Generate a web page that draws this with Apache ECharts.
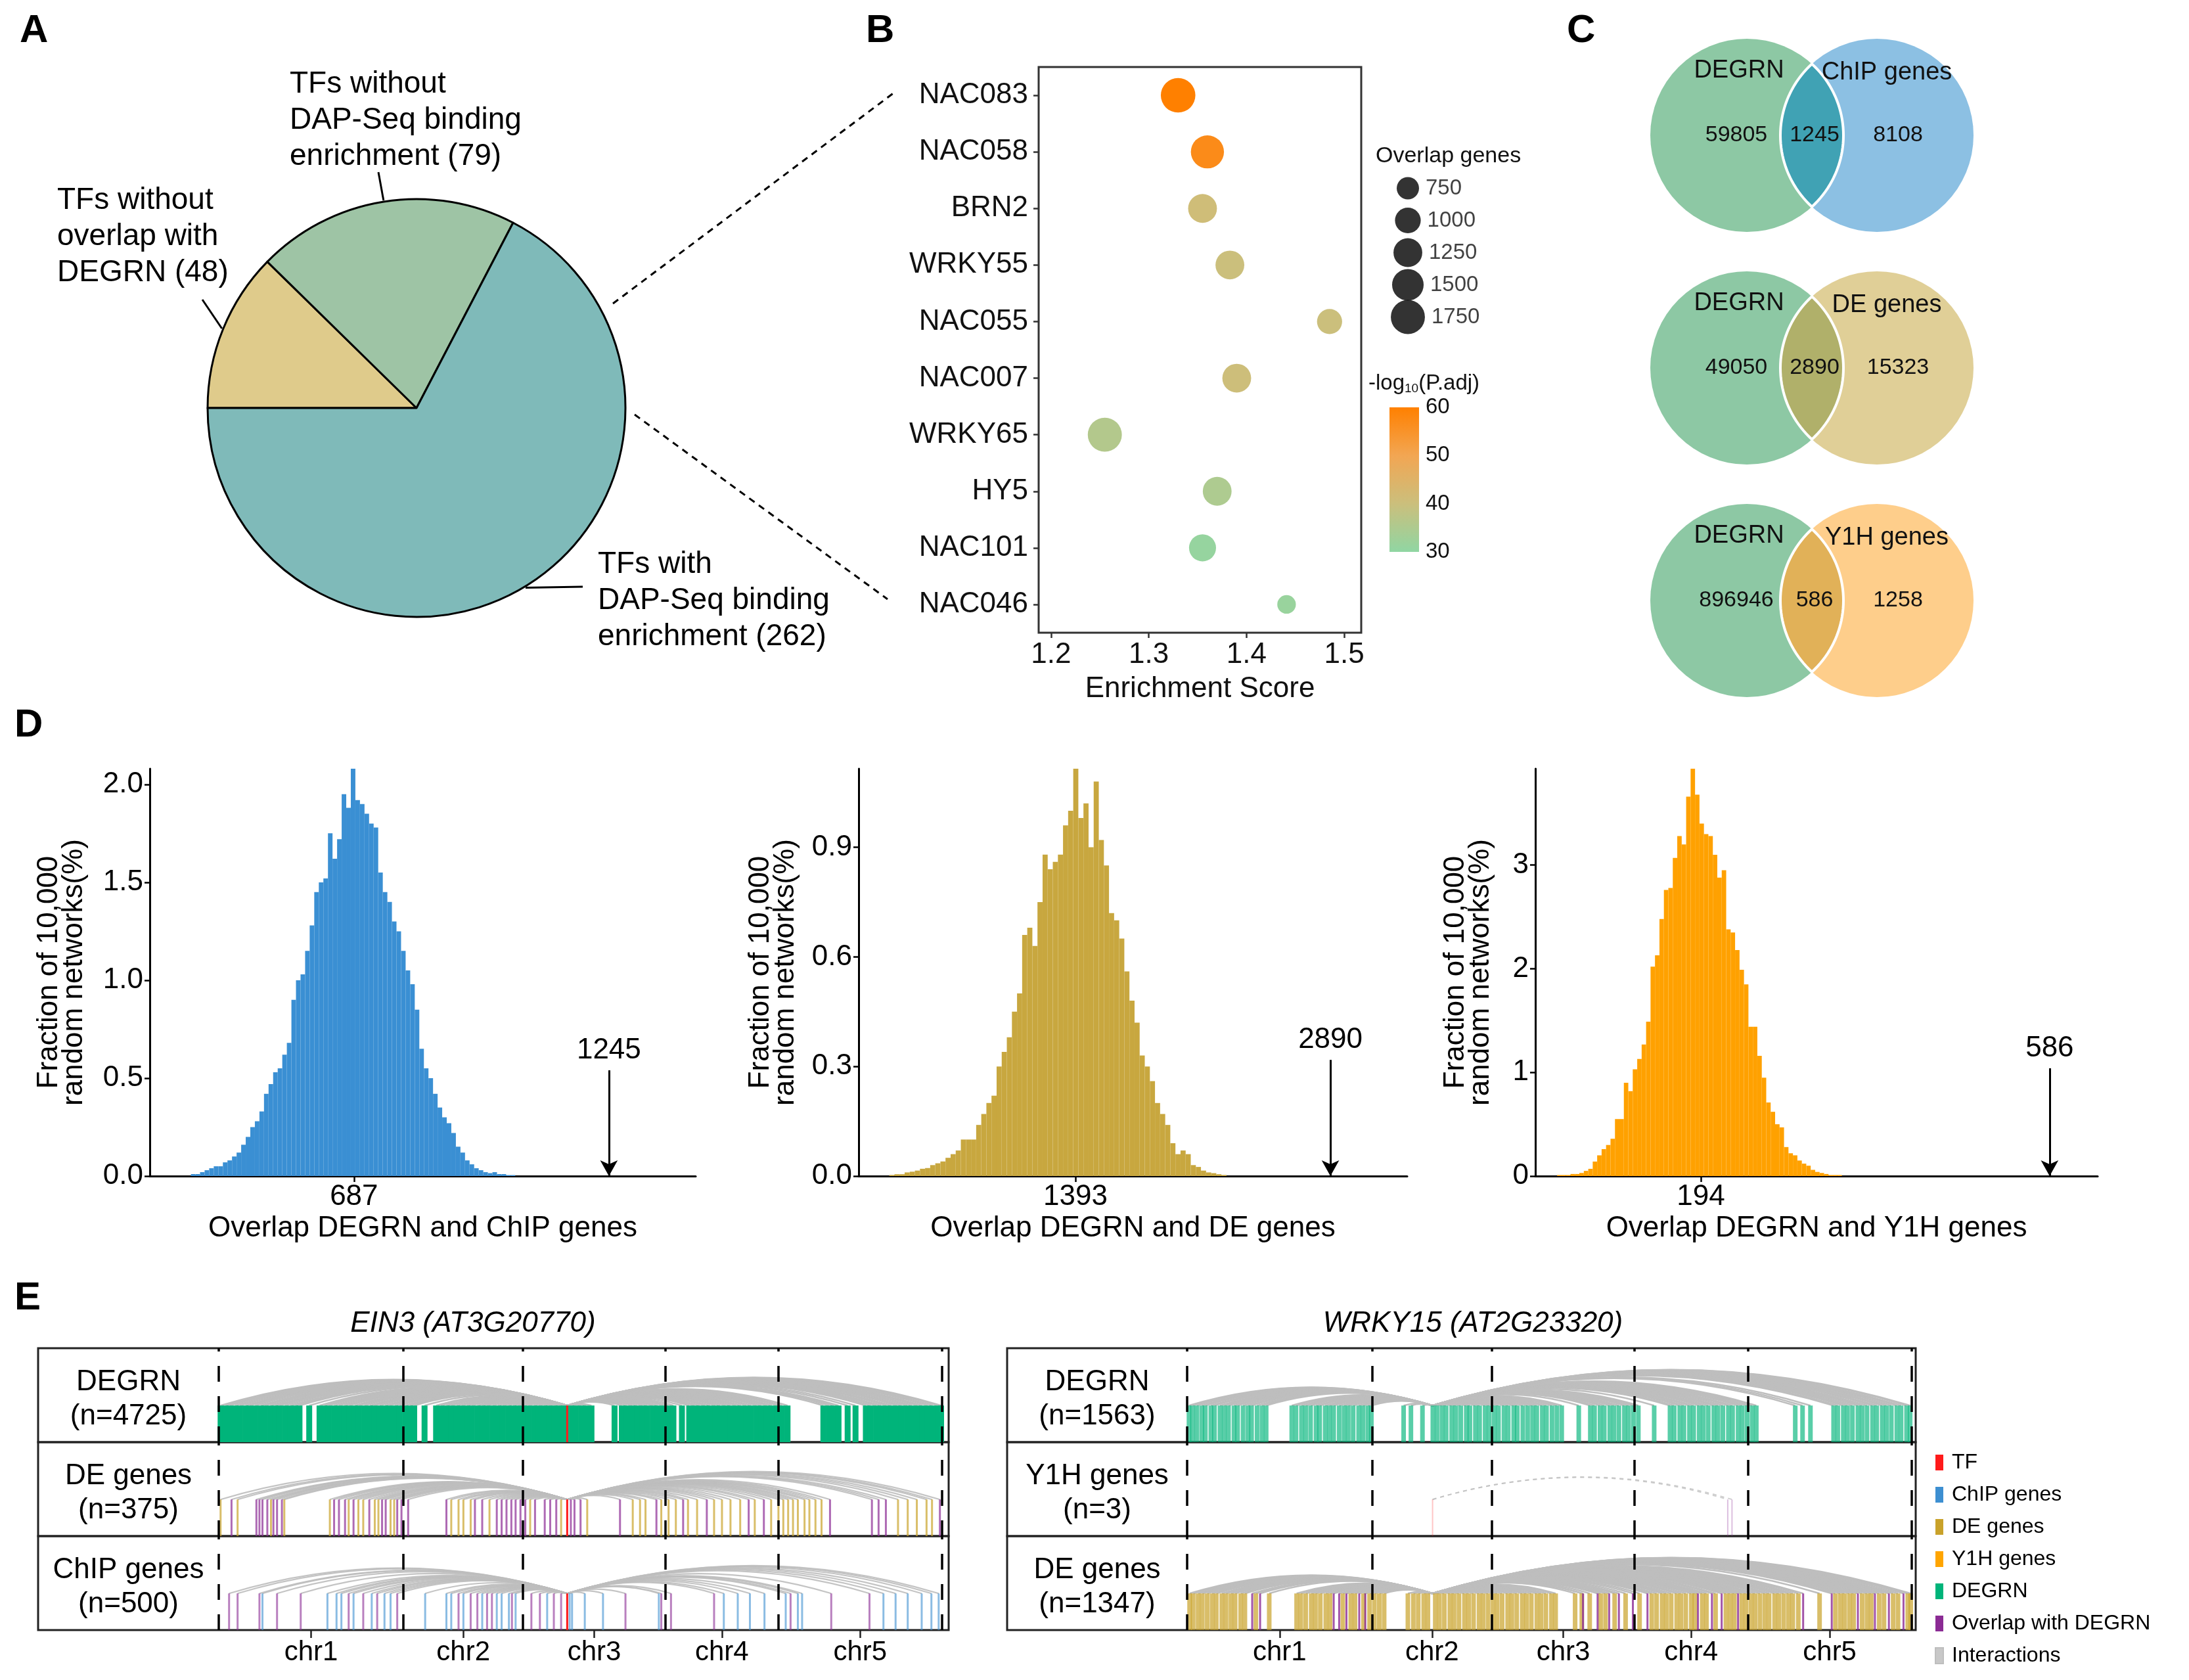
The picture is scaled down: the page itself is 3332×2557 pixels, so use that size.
<!DOCTYPE html>
<html><head><meta charset="utf-8">
<script src="https://cdn.jsdelivr.net/npm/echarts@6/dist/echarts.min.js"></script>
<style>html,body{margin:0;padding:0;background:#fff}#c{width:3332px;height:2557px}</style>
</head><body><div id="c"></div>
<script>
// ---------------- DATA ----------------
// Panel A
const pieNames = ['TFs without\noverlap with\nDEGRN', 'TFs without\nDAP-Seq binding\nenrichment', 'TFs with\nDAP-Seq binding\nenrichment'];
const pieValues = [48, 79, 262];
// Panel B
const tfNames = ['NAC083','NAC058','BRN2','WRKY55','NAC055','NAC007','WRKY65','HY5','NAC101','NAC046'];
const enrichScore = [1.33, 1.36, 1.355, 1.383, 1.485, 1.39, 1.255, 1.37, 1.355, 1.441];
const overlapGenes = [1800, 1650, 1250, 1250, 950, 1250, 1750, 1250, 1100, 520];
const negLogPadj = [60, 57, 41, 40, 40, 40.5, 36, 35, 31, 31.5];
const enrichTicks = [1.2, 1.3, 1.4, 1.5];
const sizeLegendValues = [750, 1000, 1250, 1500, 1750];
const colorbarTicks = [30, 40, 50, 60];
// Panel C
const vennLeftNames = ['DEGRN', 'DEGRN', 'DEGRN'];
const vennRightNames = ['ChIP genes', 'DE genes', 'Y1H genes'];
const vennLeftOnly = [59805, 49050, 896946];
const vennOverlap = [1245, 2890, 586];
const vennRightOnly = [8108, 15323, 1258];
// Panel D  [bin centre, fraction %]
const chipHist = [[335,0.01],[345,0.01],[355,0.02],[365,0.03],[375,0.04],[385,0.05],[395,0.05],[405,0.07],[415,0.08],[425,0.1],[435,0.12],[445,0.16],[455,0.2],[465,0.25],[475,0.28],[485,0.33],[495,0.42],[505,0.47],[515,0.53],[525,0.55],[535,0.62],[545,0.68],[555,0.9],[565,1.0],[575,1.03],[585,1.15],[595,1.28],[605,1.45],[615,1.5],[625,1.52],[635,1.75],[645,1.62],[655,1.72],[665,1.95],[675,1.88],[685,2.08],[695,1.92],[705,1.9],[715,1.85],[725,1.8],[735,1.78],[745,1.55],[755,1.45],[765,1.4],[775,1.3],[785,1.25],[795,1.15],[805,1.05],[815,0.98],[825,0.85],[835,0.65],[845,0.55],[855,0.5],[865,0.42],[875,0.35],[885,0.3],[895,0.27],[905,0.22],[915,0.15],[925,0.12],[935,0.08],[945,0.06],[955,0.04],[965,0.03],[975,0.02],[985,0.015],[995,0.02],[1005,0.01],[1015,0.01],[1025,0.005],[1035,0.005]];
const deHist = [[315,0.003],[345,0.005],[375,0.005],[405,0.01],[435,0.012],[465,0.015],[495,0.02],[525,0.022],[555,0.03],[585,0.035],[615,0.04],[645,0.05],[675,0.06],[705,0.07],[735,0.1],[765,0.1],[795,0.1],[825,0.14],[855,0.17],[885,0.2],[915,0.22],[945,0.3],[975,0.34],[1005,0.38],[1035,0.45],[1065,0.5],[1095,0.66],[1125,0.68],[1155,0.63],[1185,0.75],[1215,0.88],[1245,0.84],[1275,0.86],[1305,0.88],[1335,0.96],[1365,1.0],[1395,1.12],[1425,0.98],[1455,1.02],[1485,0.9],[1515,1.08],[1545,0.92],[1575,0.85],[1605,0.72],[1635,0.7],[1665,0.65],[1695,0.56],[1725,0.48],[1755,0.42],[1785,0.33],[1815,0.3],[1845,0.26],[1875,0.2],[1905,0.17],[1935,0.14],[1965,0.09],[1995,0.06],[2025,0.07],[2055,0.06],[2085,0.03],[2115,0.025],[2145,0.015],[2175,0.01],[2205,0.008],[2235,0.005],[2265,0.003]];
const y1hHist = [[35,0.01],[40,0.01],[45,0.01],[50,0.02],[55,0.02],[60,0.03],[65,0.05],[70,0.07],[75,0.14],[80,0.2],[85,0.26],[90,0.3],[95,0.36],[100,0.55],[105,0.55],[110,0.9],[115,0.82],[120,1.03],[125,1.13],[130,1.27],[135,1.49],[140,2.02],[145,2.13],[150,2.48],[155,2.76],[160,2.78],[165,3.07],[170,3.28],[175,3.2],[180,3.66],[185,3.93],[190,3.68],[195,3.4],[200,3.3],[205,3.28],[210,3.1],[215,2.88],[220,2.95],[225,2.38],[230,2.35],[235,2.18],[240,1.99],[245,1.85],[250,1.44],[255,1.44],[260,1.16],[265,0.95],[270,0.71],[275,0.62],[280,0.5],[285,0.47],[290,0.28],[295,0.22],[300,0.2],[305,0.15],[310,0.12],[315,0.1],[320,0.06],[325,0.04],[330,0.03],[335,0.02],[340,0.01],[345,0.01],[350,0.01]];
const histBinWidth = [10, 30, 5];
const histTitles = ['Overlap DEGRN and ChIP genes', 'Overlap DEGRN and DE genes', 'Overlap DEGRN and Y1H genes'];
const randomMean = [687, 1393, 194];
const observedOverlap = [1245, 2890, 586];
const histYTicks = [[0, 0.5, 1.0, 1.5, 2.0], [0, 0.3, 0.6, 0.9], [0, 1, 2, 3]];
// Panel E (positions in cumulative Mb along the genome)
const chrNames = ['chr1', 'chr2', 'chr3', 'chr4', 'chr5'];
const chrLengthsMb = [30.43, 19.70, 23.46, 18.59, 26.98];
const ein3Pos = 57.4;
const wrky15Pos = 40.36;
const ein3Degrn = [0.3,1.1,1.8,2.7,3.5,4.4,5.1,6.0,6.9,7.6,8.5,9.3,10.0,10.9,11.8,12.6,13.3,14.9,16.6,17.4,18.1,19.0,19.8,20.7,21.5,22.4,23.1,24.0,24.9,25.6,26.5,27.4,28.1,29.0,29.8,30.7,31.5,32.2,33.9,35.8,36.6,37.5,38.3,39.2,40.0,40.9,41.7,42.6,43.4,44.2,45.1,46.0,46.8,47.7,48.5,49.3,50.2,51.0,51.9,52.7,53.6,54.4,55.3,56.1,56.9,58.0,58.8,59.7,60.5,61.4,65.2,66.4,67.2,68.1,68.9,69.8,70.6,71.5,72.3,73.2,74.0,74.9,76.3,77.5,78.4,79.2,80.1,80.9,81.8,82.6,83.5,84.3,85.2,86.0,86.9,87.7,88.6,89.4,90.3,91.1,92.0,92.8,93.7,99.6,100.5,101.3,102.1,103.6,104.9,106.6,107.4,108.3,109.1,110.0,110.8,111.7,112.5,113.4,114.2,115.1,115.9,116.8,117.6,118.5,119.0];
const ein3DeOnly = [0.3,3.1,8.6,10.8,18.3,21.4,23.0,23.8,25.7,26.3,28.3,28.9,38.3,39.5,40.3,41.5,44.6,51.3,56.4,60.7,68.2,69.4,70.3,72.9,74.1,75.3,77.3,78.8,81.6,82.9,84.3,85.9,88.3,91.0,92.2,93.0,93.8,94.6,95.4,96.5,97.3,98.3,99.3,111.9,113.5,115.0,116.6,117.5];
const ein3DeOverlap = [2.1,6.2,6.7,7.2,8.0,9.0,9.6,10.4,19.0,19.8,20.8,22.2,24.8,26.9,27.5,29.4,30.1,31.2,37.5,42.2,43.4,45.8,46.6,47.4,48.2,48.9,49.7,50.5,52.1,53.7,54.6,55.6,58.0,58.6,59.6,66.1,72.1,76.5,80.4,87.3,89.8,100.7,107.6,108.7,109.9,118.8];
const ein3ChipOnly = [7.2,17.9,19.4,20.2,22.2,25.2,27.3,28.3,34.0,37.5,38.3,40.3,43.4,45.8,46.6,47.8,48.9,54.1,57.8,58.2,60.3,63.3,72.5,83.2,85.5,87.5,89.9,93.4,95.4,96.1,109.5,111.5,113.5,115.8,117.4,118.6];
const ein3ChipOverlap = [1.7,3.1,6.7,9.6,13.5,21.4,23.8,26.1,29.4,39.5,41.5,42.6,44.2,45.0,48.3,51.5,52.9,55.2,56.4,67.0,72.9,74.5,81.6,94.2,100.9,107.2];
const wrkyDegrn = [0.3,0.9,1.6,2.4,3.0,3.9,4.5,5.4,6.1,6.8,7.7,8.3,9.2,10.0,10.6,11.5,12.3,13.0,17.2,17.9,18.8,19.5,20.3,21.2,21.8,22.7,23.4,24.1,25.0,25.8,26.5,27.3,28.2,28.9,29.7,30.3,35.6,36.8,38.7,40.4,41.1,41.9,42.6,43.5,44.2,45.0,45.9,46.5,47.4,48.1,49.0,49.7,50.5,51.2,52.1,52.8,53.7,54.3,55.2,56.0,56.8,57.5,58.4,59.1,60.0,60.8,61.6,64.4,66.3,67.0,67.9,68.6,69.5,70.2,71.0,71.9,72.6,73.4,74.2,76.8,79.4,80.1,81.0,81.7,82.6,83.3,84.2,84.9,85.7,86.6,87.3,88.1,89.0,89.7,90.6,91.3,92.1,92.9,93.6,100.0,101.2,102.5,106.3,107.0,107.9,108.6,109.4,110.3,111.0,111.8,112.7,113.4,114.3,115.0,115.8,116.7,117.4,118.3,118.9];
const wrkyY1hTargets = [88.9, 89.6];
const wrkyDeOnly = [0.4,1.0,1.8,2.5,3.3,4.1,4.8,5.7,6.4,7.2,7.9,8.8,9.5,11.3,13.5,18.0,18.7,19.5,20.4,21.1,21.9,22.8,23.5,25.6,26.9,27.6,29.0,30.0,30.8,31.6,32.4,36.3,37.2,38.0,38.9,39.6,40.8,41.5,42.3,43.2,43.9,44.7,45.6,46.3,47.1,48.0,48.7,49.5,50.3,51.0,51.8,52.7,53.4,54.2,55.1,55.8,56.6,57.5,58.2,59.0,59.9,60.6,63.8,64.9,66.2,68.0,68.8,70.3,72.1,74.4,76.4,77.2,78.1,78.8,79.6,80.5,81.2,82.0,82.9,83.5,84.7,85.4,86.9,88.6,89.3,90.0,91.2,91.9,92.7,93.4,94.2,95.0,95.7,96.6,97.3,98.1,98.9,99.6,100.5,104.0,106.6,107.4,108.1,108.9,109.6,111.0,111.8,112.5,113.8,114.6,116.1,116.9,118.5,119.0];
const wrkyDeOverlap = [10.7,12.0,24.1,25.0,26.2,28.3,29.3,65.1,67.5,69.4,71.0,73.3,75.7,84.0,86.3,87.9,90.6,101.3,106.0,110.3,113.1,115.4,117.8];

// ---------------- STYLE / LAYOUT ----------------
const FONT = "'Liberation Sans', Arial, Helvetica, sans-serif";
const C = {
  tan:'#dfcb8b', sage:'#9ec4a5', teal:'#7fbab9',
  degrn:'#00b47a', de:'#c9a22a', chip:'#3d8fd1', y1h:'#ffa500', tf:'#ff1a1a', overlap:'#8b2b94', arc:'#bebebe'
};
const GENOME = chrLengthsMb.reduce((a, b) => a + b, 0);
const chrBounds = [0];
chrLengthsMb.forEach(l => chrBounds.push(chrBounds[chrBounds.length - 1] + l));
const chrCenters = chrLengthsMb.map((l, i) => chrBounds[i] + l / 2);
const BAR_TOP = 0.39;
const TRACK_TOPS = [2052, 2195, 2338], TRACK_H = 143;
const BLK = [{boxL:58, boxR:1444, chrL:333, chrR:1434}, {boxL:1533, boxR:2916, chrL:1807, chrR:2910}];

const chart = echarts.init(document.getElementById('c'), null, {renderer:'canvas'});

const grids = [], xAxes = [], yAxes = [], series = [];
function addPanel(grid, xa, ya) {
  grids.push(grid); const gi = grids.length - 1;
  xAxes.push(Object.assign({gridIndex:gi}, xa)); yAxes.push(Object.assign({gridIndex:gi}, ya));
  return gi;
}

// ---- Panel A: pie ----
const PIE = {cx:634, cy:621, r:318, start:180};
const pieLabelPos = [{x:87, y:278}, {x:441, y:101}, {x:910, y:832}];
const pieLeaderEnd = [[308, 456], [576, 262], [887, 893]];
series.push({
  type:'pie', name:'pie', center:[PIE.cx, PIE.cy], radius:PIE.r, startAngle:PIE.start, clockwise:true,
  avoidLabelOverlap:false, silent:true,
  data: pieValues.map((v, i) => ({value:v, name:pieNames[i], itemStyle:{color:[C.tan, C.sage, C.teal][i]}})),
  itemStyle:{borderColor:'#000', borderWidth:3},
  label:{show:true, position:'outside', formatter:'{b} ({c})', fontSize:46, lineHeight:55, color:'#000', fontFamily:FONT},
  labelLine:{show:false},
  labelLayout: p => ({x:pieLabelPos[p.dataIndex].x, y:pieLabelPos[p.dataIndex].y, align:'left', verticalAlign:'top'})
});
// leader lines start at each slice's mid-angle on the rim
const pieTotal = pieValues.reduce((a, b) => a + b, 0);
const pieLeaders = [];
{
  let cum = 0;
  pieValues.forEach((v, i) => {
    const mid = (PIE.start - (cum + v / 2) / pieTotal * 360) * Math.PI / 180;
    cum += v;
    pieLeaders.push({type:'line', silent:true,
      shape:{x1:PIE.cx + (PIE.r + 2) * Math.cos(mid), y1:PIE.cy - (PIE.r + 2) * Math.sin(mid), x2:pieLeaderEnd[i][0], y2:pieLeaderEnd[i][1]},
      style:{stroke:'#000', lineWidth:3}});
  });
}

// ---- Panel B: bubble plot ----
const gB = addPanel({left:1581, top:102, width:491, height:861, show:true, borderColor:'#333', borderWidth:3},
  {type:'value', min:1.1873, max:1.5174,
    axisLine:{show:false}, splitLine:{show:false},
    axisTick:{show:true, customValues:enrichTicks, length:8, lineStyle:{color:'#333', width:2.5}},
    axisLabel:{customValues:enrichTicks, fontSize:44, color:'#111', margin:12, fontFamily:FONT, formatter:v => v.toFixed(1)},
    name:'Enrichment Score', nameLocation:'middle', nameGap:64, nameTextStyle:{fontSize:44, color:'#111', fontFamily:FONT}},
  {type:'category', data:tfNames, inverse:true,
    axisLine:{show:false}, axisTick:{show:true, alignWithLabel:true, length:8, lineStyle:{color:'#333', width:2.5}},
    axisLabel:{fontSize:44, color:'#111', margin:16, fontFamily:FONT}});
const sizeOf = v => 2 * 0.62 * Math.sqrt(v);
const scatterIndex = series.length;
series.push({type:'scatter', name:'enrichment', xAxisIndex:gB, yAxisIndex:gB, silent:true,
  data: tfNames.map((n, i) => [enrichScore[i], n, negLogPadj[i], overlapGenes[i]]),
  symbolSize: v => sizeOf(v[3]), itemStyle:{opacity:1}});
// size legend
const gS = addPanel({left:2118, top:262, width:50, height:245},
  {type:'value', min:0, max:1, show:false},
  {type:'category', data:sizeLegendValues.map(String), inverse:true, show:false});
series.push({type:'scatter', name:'sizeLegend', xAxisIndex:gS, yAxisIndex:gS, silent:true,
  data: sizeLegendValues.map(v => [0.5, String(v), v]), symbolSize: v => sizeOf(v[2]),
  itemStyle:{color:'#000'},
  label:{show:true, position:'right', distance:10, formatter: p => String(p.value[2]), fontSize:33, color:'#111', fontFamily:FONT}});
// colour bar
const gCB = addPanel({left:2115, top:620, width:45, height:220},
  {type:'value', min:0, max:1, show:false},
  {type:'value', min:30, max:60, interval:10, position:'right', z:10,
    axisLine:{show:false}, splitLine:{show:false},
    axisTick:{show:true, inside:true, length:9, lineStyle:{color:'#fff', width:2}},
    axisLabel:{fontSize:33, color:'#111', margin:10, fontFamily:FONT}});
const cbarColors = ['#90d6a3', '#cbbf7c', '#f2a653', '#ff8000'];
series.push({type:'custom', name:'colorbar', xAxisIndex:gCB, yAxisIndex:gCB, silent:true, z:1,
  data:[[0, colorbarTicks[0], colorbarTicks[colorbarTicks.length - 1]]],
  renderItem:(params, api) => {
    const a = api.coord([0, api.value(2)]), b = api.coord([1, api.value(1)]);
    return {type:'rect', shape:{x:a[0], y:a[1], width:b[0] - a[0], height:b[1] - a[1]},
      style:{fill:new echarts.graphic.LinearGradient(0, 0, 0, 1, [
        {offset:0, color:cbarColors[3]}, {offset:1/3, color:cbarColors[2]},
        {offset:2/3, color:cbarColors[1]}, {offset:1, color:cbarColors[0]}])}};
  }});

// ---- Panel C: Venn diagrams ----
const VENN = {cx1:2659, cx2:2857, r:147, ys:[206, 560, 914]};
const vennColors = [
  {left:'#8dc8a4', right:'#8cc0e3', lens:'#40a2b4'},
  {left:'#8dc8a4', right:'#e0cf97', lens:'#b0b06a'},
  {left:'#8dc8a4', right:'#fece8b', lens:'#e1b158'}];
series.push({type:'custom', name:'venn', coordinateSystem:'none', silent:true,
  data: vennOverlap.map((v, i) => [i, vennLeftOnly[i], v, vennRightOnly[i]]),
  renderItem:(params, api) => {
    const i = params.dataIndex, cy = VENN.ys[i], r = VENN.r, cx1 = VENN.cx1, cx2 = VENN.cx2;
    const d = cx2 - cx1, alpha = Math.acos(d / 2 / r);
    const pts = [];
    // right edge of the lens (arc of the left circle), top -> bottom
    for (let k = 0; k <= 40; k++) { const t = -alpha + 2 * alpha * k / 40; pts.push([cx1 + r * Math.cos(t), cy + r * Math.sin(t)]); }
    // left edge of the lens (arc of the right circle), bottom -> top
    for (let k = 0; k <= 40; k++) { const t = Math.PI - alpha + 2 * alpha * k / 40; pts.push([cx2 + r * Math.cos(t), cy + r * Math.sin(t)]); }
    const col = vennColors[i];
    const txt = (x, y, s, size) => ({type:'text', x, y, style:{text:s, fontSize:size, fontFamily:FONT, fill:'#111', align:'center', verticalAlign:'middle'}});
    return {type:'group', children:[
      {type:'circle', shape:{cx:cx1, cy, r}, style:{fill:col.left}},
      {type:'circle', shape:{cx:cx2, cy, r}, style:{fill:col.right}},
      {type:'polygon', shape:{points:pts}, style:{fill:col.lens, stroke:'#fff', lineWidth:4}},
      txt(cx1 - 12, cy - 98, vennLeftNames[i], 38),
      txt(cx2 + 15, cy - 95, vennRightNames[i], 38),
      txt(cx1 - 16, cy, String(api.value(1)), 34),
      txt((cx1 + cx2) / 2 + 4, cy, String(api.value(2)), 34),
      txt(cx2 + 32, cy, String(api.value(3)), 34)
    ]};
  }});

// ---- Panel D: histograms ----
const histData = [chipHist, deHist, y1hHist];
const histColors = ['#3a8fd3', '#c8a73f', '#ffa100'];
const histGrid = [{left:228, width:831}, {left:1307, width:835}, {left:2337, width:856}];
const histX = [[240, 1435], [120, 3341], [8, 640]];
const histYMax = [2.08, 1.115, 3.93];
const histNameGap = [96, 92, 64];
const arrowTop = [0.54, 0.318, 1.04];
for (let h = 0; h < 3; h++) {
  const gi = addPanel({left:histGrid[h].left, top:1170, width:histGrid[h].width, height:620},
    {type:'value', min:histX[h][0], max:histX[h][1],
      axisLine:{show:true, onZero:false, lineStyle:{color:'#000', width:3}}, splitLine:{show:false},
      axisTick:{show:true, customValues:[randomMean[h]], length:9, lineStyle:{color:'#000', width:2.5}},
      axisLabel:{customValues:[randomMean[h]], fontSize:44, color:'#000', margin:10, fontFamily:FONT, formatter:v => String(Math.round(v))},
      name:histTitles[h], nameLocation:'middle', nameGap:58, nameTextStyle:{fontSize:44, color:'#000', fontFamily:FONT}},
    {type:'value', min:0, max:histYMax[h],
      axisLine:{show:true, onZero:false, lineStyle:{color:'#000', width:3}}, splitLine:{show:false},
      axisTick:{show:true, customValues:histYTicks[h], length:8, lineStyle:{color:'#000', width:2.5}},
      axisLabel:{customValues:histYTicks[h], fontSize:44, color:'#000', margin:10, fontFamily:FONT,
        formatter: v => h === 2 ? String(Math.round(v)) : v.toFixed(1)},
      name:'Fraction of 10,000\nrandom networks(%)', nameLocation:'middle', nameRotate:90, nameGap:histNameGap[h],
      nameTextStyle:{fontSize:44, lineHeight:38, color:'#000', fontFamily:FONT}});
  const bw = histBinWidth[h], col = histColors[h];
  series.push({type:'custom', name:'hist' + h, xAxisIndex:gi, yAxisIndex:gi, silent:true, clip:true,
    data:histData[h], encode:{x:0, y:1},
    renderItem:(params, api) => {
      const x = api.value(0), y = api.value(1);
      const a = api.coord([x - bw / 2, y]), b = api.coord([x + bw / 2, 0]);
      return {type:'rect', shape:{x:a[0], y:a[1], width:b[0] - a[0], height:b[1] - a[1]}, style:{fill:col}};
    }});
  series.push({type:'line', name:'arrow' + h, xAxisIndex:gi, yAxisIndex:gi, silent:true,
    data:[[observedOverlap[h], -1]], showSymbol:false, lineStyle:{opacity:0},
    markLine:{silent:true, symbol:['none', 'arrow'], symbolSize:[20, 24], animation:false,
      lineStyle:{color:'#000', width:3, type:'solid'},
      label:{show:true, position:'start', formatter:String(observedOverlap[h]), fontSize:44, color:'#000', fontFamily:FONT, distance:8},
      data:[[{coord:[observedOverlap[h], arrowTop[h]]}, {coord:[observedOverlap[h], 0]}]]}});
}

// ---- Panel E: genome tracks ----
function geneSeries(name, gi, positions, color, w, op) {
  return {type:'custom', name, xAxisIndex:gi, yAxisIndex:gi, silent:true, clip:true,
    data:positions.map(p => [p, 0]), encode:{x:0, y:1},
    renderItem:(params, api) => {
      const x = api.value(0), a = api.coord([x, BAR_TOP]), b = api.coord([x, 0]);
      return {type:'rect', shape:{x:a[0] - w / 2, y:a[1], width:w, height:b[1] - a[1]}, style:{fill:color, opacity:op}};
    }};
}
function arcSeries(gi, tf, targets, width, opacity, dashed) {
  return {type:'lines', name:'Interactions', coordinateSystem:'cartesian2d', xAxisIndex:gi, yAxisIndex:gi, silent:true,
    lineStyle:{color:C.arc, width, opacity, curveness:0.15, type:dashed ? [6, 6] : 'solid'},
    data:targets.map(g => ({coords:[[Math.min(tf, g), BAR_TOP], [Math.max(tf, g), BAR_TOP]]}))};
}
function dashSeries(gi) {
  return {type:'line', name:'chrBounds', xAxisIndex:gi, yAxisIndex:gi, silent:true, data:[[0, -1]], showSymbol:false, lineStyle:{opacity:0},
    markLine:{silent:true, symbol:['none', 'none'], animation:false, label:{show:false},
      lineStyle:{type:[24, 22], color:'#000', width:3.5}, data:chrBounds.map(v => ({xAxis:v}))}};
}
const trackGrid = [];
for (let b = 0; b < 2; b++) {
  const blk = BLK[b], ppm = (blk.chrR - blk.chrL) / GENOME;
  const xmin = -(blk.chrL - blk.boxL) / ppm, xmax = GENOME + (blk.boxR - blk.chrR) / ppm;
  trackGrid.push([]);
  for (let t = 0; t < 3; t++) {
    const bottom = t === 2;
    const gi = addPanel({left:blk.boxL, top:TRACK_TOPS[t], width:blk.boxR - blk.boxL, height:TRACK_H, show:true, borderColor:'#222', borderWidth:3},
      {type:'value', min:xmin, max:xmax, show:bottom,
        axisLine:{show:false}, splitLine:{show:false},
        axisTick:{show:bottom, customValues:chrCenters, length:12, lineStyle:{color:'#222', width:2.5}},
        axisLabel:{show:bottom, customValues:chrCenters, fontSize:42, color:'#000', margin:13, fontFamily:FONT,
          formatter:v => { let k = 0, best = 1e9; chrCenters.forEach((c, i) => { if (Math.abs(c - v) < best) { best = Math.abs(c - v); k = i; } }); return chrNames[k]; }}},
      {type:'value', min:0, max:1, show:false});
    trackGrid[b].push(gi);
    series.push(dashSeries(gi));
  }
}
// EIN3 block
let g = trackGrid[0];
series.push(arcSeries(g[0], ein3Pos, ein3Degrn, 2.5, 1, false));
series.push(geneSeries('DEGRN', g[0], ein3Degrn, C.degrn, 9, 1));
series.push(geneSeries('TF', g[0], [ein3Pos], C.tf, 3, 1));
series.push(arcSeries(g[1], ein3Pos, ein3DeOnly.concat(ein3DeOverlap), 2.2, 0.9, false));
series.push(geneSeries('DE genes', g[1], ein3DeOnly, C.de, 3, 0.7));
series.push(geneSeries('Overlap with DEGRN', g[1], ein3DeOverlap, C.overlap, 3, 0.7));
series.push(geneSeries('TF', g[1], [ein3Pos], C.tf, 3, 1));
series.push(arcSeries(g[2], ein3Pos, ein3ChipOnly.concat(ein3ChipOverlap), 2.2, 0.9, false));
series.push(geneSeries('ChIP genes', g[2], ein3ChipOnly, C.chip, 3, 0.6));
series.push(geneSeries('Overlap with DEGRN', g[2], ein3ChipOverlap, C.overlap, 3, 0.6));
series.push(geneSeries('TF', g[2], [ein3Pos], C.tf, 3, 1));
// WRKY15 block
g = trackGrid[1];
series.push(arcSeries(g[0], wrky15Pos, wrkyDegrn, 2.5, 1, false));
series.push(geneSeries('DEGRN', g[0], wrkyDegrn, C.degrn, 7, 0.65));
series.push(arcSeries(g[1], wrky15Pos, wrkyY1hTargets, 2, 0.7, true));
series.push(geneSeries('Overlap with DEGRN', g[1], wrkyY1hTargets, C.overlap, 2, 0.3));
series.push(geneSeries('TF', g[1], [wrky15Pos], C.tf, 2, 0.25));
series.push(geneSeries('Y1H genes', g[1], [-100], C.y1h, 2, 1));
series.push(arcSeries(g[2], wrky15Pos, wrkyDeOnly.concat(wrkyDeOverlap), 2.5, 1, false));
series.push(geneSeries('DE genes', g[2], wrkyDeOnly, C.de, 7, 0.7));
series.push(geneSeries('Overlap with DEGRN', g[2], wrkyDeOverlap, C.overlap, 3, 0.8));

const trackLabels = [['DEGRN\n(n=4725)', 'DE genes\n(n=375)', 'ChIP genes\n(n=500)'], ['DEGRN\n(n=1563)', 'Y1H genes\n(n=3)', 'DE genes\n(n=1347)']];

// ---------------- graphic texts / annotations ----------------
const gtext = (x, y, s, opt) => Object.assign({type:'text', x, y, silent:true,
  style:Object.assign({text:s, fontFamily:FONT, fontSize:44, fill:'#000', align:'center', verticalAlign:'middle'}, opt || {})});
const graphics = pieLeaders.concat([
  gtext(30, 47, 'A', {fontSize:60, fontWeight:'bold', align:'left'}),
  gtext(1318, 47, 'B', {fontSize:60, fontWeight:'bold', align:'left'}),
  gtext(2385, 47, 'C', {fontSize:60, fontWeight:'bold', align:'left'}),
  gtext(22, 1104, 'D', {fontSize:60, fontWeight:'bold', align:'left'}),
  gtext(22, 1976, 'E', {fontSize:60, fontWeight:'bold', align:'left'}),
  {type:'line', silent:true, shape:{x1:933, y1:462, x2:1361, y2:141}, style:{stroke:'#000', lineWidth:3, lineDash:[10, 8]}},
  {type:'line', silent:true, shape:{x1:966, y1:631, x2:1351, y2:912}, style:{stroke:'#000', lineWidth:3, lineDash:[10, 8]}},
  gtext(2094, 238, 'Overlap genes', {fontSize:34, align:'left', fill:'#111'}),
  {type:'text', x:2083, y:584, silent:true, style:{text:'{a|-log}{s|10}{a|(P.adj)}', align:'left', verticalAlign:'middle', fill:'#111',
    rich:{a:{fontSize:33, fontFamily:FONT, fill:'#111'}, s:{fontSize:19, fontFamily:FONT, fill:'#111', padding:[16, 0, 0, 0]}}}},
  gtext(720, 2015, 'EIN3 (AT3G20770)', {fontStyle:'italic'}),
  gtext(2242, 2015, 'WRKY15 (AT2G23320)', {fontStyle:'italic'})
]);
for (let b = 0; b < 2; b++) {
  const cx = (BLK[b].boxL + BLK[b].chrL) / 2;
  for (let t = 0; t < 3; t++) graphics.push(gtext(cx, TRACK_TOPS[t] + TRACK_H / 2 + 6, trackLabels[b][t], {lineHeight:52}));
}

chart.setOption({
  backgroundColor:'#fff', animation:false,
  textStyle:{fontFamily:FONT},
  grid:grids, xAxis:xAxes, yAxis:yAxes,
  visualMap:[{type:'continuous', show:false, seriesIndex:scatterIndex, dimension:2, min:30, max:60, inRange:{color:cbarColors}}],
  legend:{orient:'vertical', left:2940, top:2205, icon:'rect', itemWidth:12, itemHeight:24, itemGap:17, selectedMode:false,
    textStyle:{fontSize:32, color:'#000', fontFamily:FONT, padding:[0, 0, 0, 8]},
    data:[{name:'TF', itemStyle:{color:C.tf}}, {name:'ChIP genes', itemStyle:{color:C.chip}}, {name:'DE genes', itemStyle:{color:C.de}},
      {name:'Y1H genes', itemStyle:{color:C.y1h}}, {name:'DEGRN', itemStyle:{color:C.degrn}},
      {name:'Overlap with DEGRN', itemStyle:{color:C.overlap}}, {name:'Interactions', itemStyle:{color:'#c8c8c8'}, lineStyle:{opacity:0}}]},
  series:series,
  graphic:{elements:graphics}
});
</script></body></html>
